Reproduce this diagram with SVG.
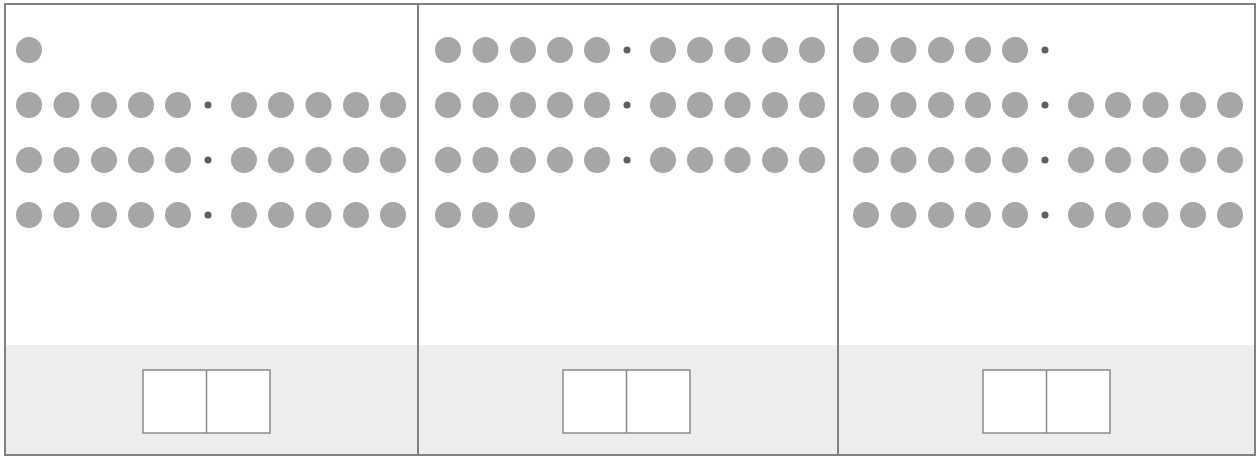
<svg xmlns="http://www.w3.org/2000/svg" xmlns:xlink="http://www.w3.org/1999/xlink" width="1259" height="457" viewBox="0 0 1259 457">
<style>
.frame{fill:none;stroke:#808080;stroke-width:2}
.band{fill:#ededed}
.d{fill:#a6a6a6}
.s{fill:#606060}
.box{fill:#ffffff;stroke:#8a8a8a;stroke-width:1.5}
.div{stroke:#8a8a8a;stroke-width:1.5}
</style>
<defs>
<g id="row10">
<circle class="d" cx="29" cy="0" r="13"/>
<circle class="d" cx="66.5" cy="0" r="13"/>
<circle class="d" cx="104" cy="0" r="13"/>
<circle class="d" cx="141" cy="0" r="13"/>
<circle class="d" cx="178" cy="0" r="13"/>
<circle class="s" cx="208" cy="0" r="3.5"/>
<circle class="d" cx="244" cy="0" r="13"/>
<circle class="d" cx="281" cy="0" r="13"/>
<circle class="d" cx="318.5" cy="0" r="13"/>
<circle class="d" cx="356" cy="0" r="13"/>
<circle class="d" cx="393" cy="0" r="13"/>
</g>
<g id="frame2">
<rect class="box" x="0" y="0" width="127" height="63"/>
<line class="div" x1="63.5" y1="0" x2="63.5" y2="63"/>
</g>
</defs>
<g id="background">
<rect x="0" y="0" width="1259" height="457" fill="#ffffff"/>
<rect class="band" x="5" y="345" width="1250" height="110"/>
</g>
<g id="panel1">
<circle class="d" cx="29" cy="50" r="13"/>
<use xlink:href="#row10" y="105"/>
<use xlink:href="#row10" y="160"/>
<use xlink:href="#row10" y="215"/>
<use xlink:href="#frame2" x="143" y="370"/>
</g>
<g id="panel2">
<use xlink:href="#row10" x="419" y="50"/>
<use xlink:href="#row10" x="419" y="105"/>
<use xlink:href="#row10" x="419" y="160"/>
<circle class="d" cx="448" cy="215" r="13"/>
<circle class="d" cx="485" cy="215" r="13"/>
<circle class="d" cx="522" cy="215" r="13"/>
<use xlink:href="#frame2" x="563" y="370"/>
</g>
<g id="panel3">
<circle class="d" cx="866" cy="50" r="13"/>
<circle class="d" cx="903.5" cy="50" r="13"/>
<circle class="d" cx="941" cy="50" r="13"/>
<circle class="d" cx="978" cy="50" r="13"/>
<circle class="d" cx="1015" cy="50" r="13"/>
<circle class="s" cx="1045" cy="50" r="3.5"/>
<use xlink:href="#row10" x="837" y="105"/>
<use xlink:href="#row10" x="837" y="160"/>
<use xlink:href="#row10" x="837" y="215"/>
<use xlink:href="#frame2" x="983" y="370"/>
</g>
<g id="connectors">
<rect class="frame" x="5" y="4" width="1250" height="451"/>
<line class="frame" x1="418" y1="4" x2="418" y2="455"/>
<line class="frame" x1="838" y1="4" x2="838" y2="455"/>
</g>
</svg>
